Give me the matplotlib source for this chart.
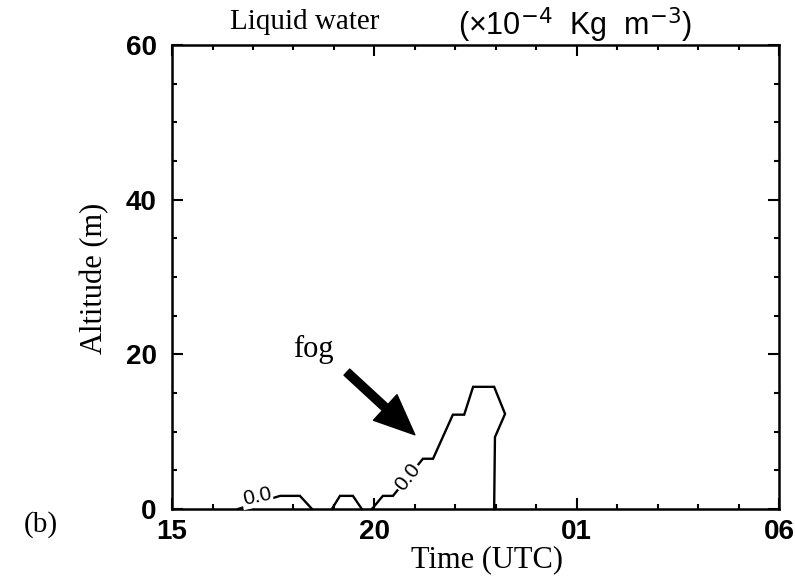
import matplotlib
matplotlib.use("Agg")
import matplotlib.pyplot as plt
from matplotlib.ticker import MultipleLocator

# contour 0.0 of liquid water, hours after 15 UTC vs altitude (m)
seg1_t = [1.63, 2.67, 3.16, 3.46]
seg1_z = [0.0, 1.7, 1.7, 0.0]
seg2_t = [3.95, 4.15, 4.47, 4.69]
seg2_z = [0.0, 1.7, 1.7, 0.0]
seg3_t = [4.94, 5.21, 5.46, 6.20, 6.45, 6.94, 7.22, 7.44, 7.96, 8.23, 7.98, 7.96]
seg3_z = [0.0, 1.7, 1.7, 6.5, 6.5, 12.2, 12.2, 15.8, 15.8, 12.3, 9.3, 0.0]

xticks = [0, 5, 10, 15]
xticklabels = ["15", "20", "01", "06"]
yticks = [0, 20, 40, 60]

serif = "Liberation Serif"
sans = "Liberation Sans"

fig = plt.figure(figsize=(7.95, 5.81), dpi=100)
ax = fig.add_axes([0.2164, 0.1239, 0.7635, 0.7986])

for t, z in [(seg1_t, seg1_z), (seg2_t, seg2_z), (seg3_t, seg3_z)]:
    ax.plot(t, z, color="black", lw=1.7, solid_joinstyle="miter", clip_on=False, zorder=3)

# contour labels
lab = dict(fontsize=15, family=sans, ha="center", va="center", zorder=4,
           bbox=dict(boxstyle="square,pad=0.05", fc="white", ec="none"))
ax.text(2.10, 1.60, "0.0", rotation=12, **lab)
ax.text(5.83, 4.10, "0.0", rotation=52, **lab)

# fog arrow
ax.annotate("", xy=(6.00, 9.6), xytext=(4.32, 17.7),
            arrowprops=dict(arrowstyle="simple,head_length=0.58,head_width=0.5,tail_width=0.12",
                            mutation_scale=50, color="black", shrinkA=0, shrinkB=0))
ax.text(3.50, 20.6, "fog", fontsize=22, family=serif, ha="center", va="center")

ax.set_xlim(0, 15)
ax.set_ylim(0, 60)
ax.set_xticks(xticks)
ax.set_xticklabels(xticklabels)
ax.set_yticks(yticks)
ax.xaxis.set_minor_locator(MultipleLocator(1))
ax.yaxis.set_minor_locator(MultipleLocator(5))
ax.tick_params(which="both", direction="in", top=True, right=True, width=1.5)
ax.tick_params(which="major", length=8)
ax.tick_params(which="minor", length=3.5)
ax.tick_params(axis="x", pad=7)
ax.tick_params(axis="y", pad=11)
for lbl in ax.get_xticklabels() + ax.get_yticklabels():
    lbl.set_fontfamily(sans)
    lbl.set_fontweight("bold")
    lbl.set_fontsize(20)
for sp in ax.spines.values():
    sp.set_linewidth(1.8)

fig.text(305 / 795, 1 - 22 / 581, "Liquid water", fontsize=21, family=serif,
         ha="center", va="center")
fig.text(575 / 795, 1 - 25 / 581, r"(×10$^{-4}$  Kg  m$^{-3}$)", fontsize=22,
         family=sans, ha="center", va="center")
fig.text(95 / 795, 1 - 278 / 581, "Altitude (m)", fontsize=22, family=serif,
         rotation=90, ha="center", va="center")
fig.text(487 / 795, 1 - 560 / 581, "Time (UTC)", fontsize=22, family=serif,
         ha="center", va="center")
fig.text(41 / 795, 1 - 525 / 581, "(b)", fontsize=21, family=serif,
         ha="center", va="center")

fig.savefig("out.png", dpi=100)
